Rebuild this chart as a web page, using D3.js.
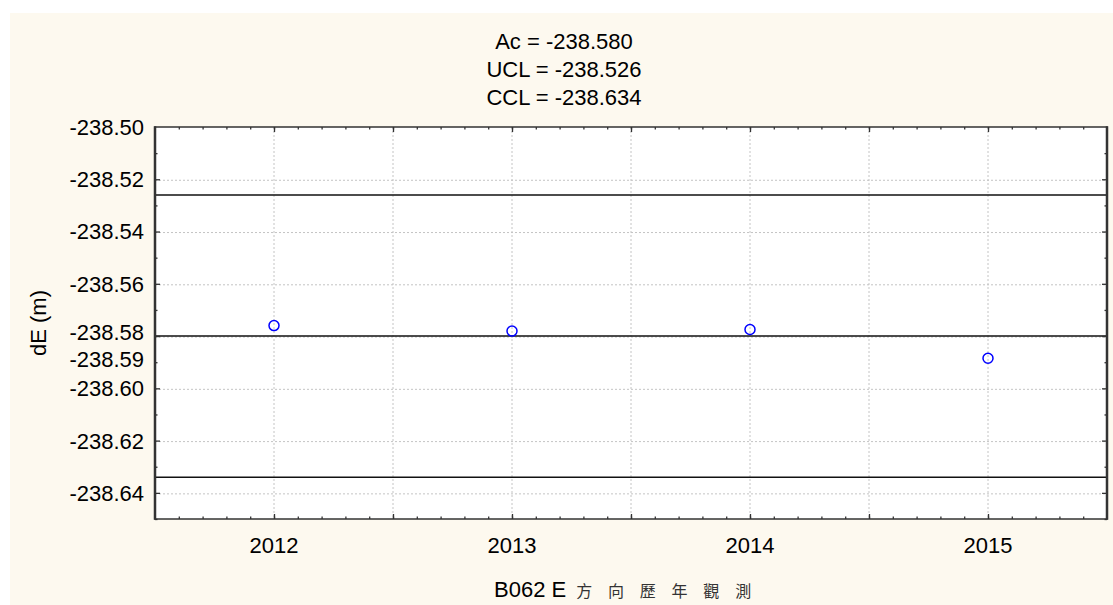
<!DOCTYPE html>
<html>
<head>
<meta charset="utf-8">
<script src="https://cdn.jsdelivr.net/npm/d3@7"></script>
<style>
  body { margin: 0; background: #fff; }
  text { font-family: "Liberation Sans", Arial, sans-serif; fill: #000; }
</style>
</head>
<body>
<svg id="chart"></svg>
<script>
// observations per year
var years = [2012, 2013, 2014, 2015];
var dE = [-238.5760, -238.5781, -238.5775, -238.5885];

// control lines
var controlNames = ["Ac", "UCL", "CCL"];
var controlValues = [-238.580, -238.526, -238.634];

// axis ticks
var yTicks = [-238.50, -238.52, -238.54, -238.56, -238.58, -238.59, -238.60, -238.62, -238.64];
var yTickLabels = ["-238.50", "-238.52", "-238.54", "-238.56", "-238.58", "-238.59", "-238.60", "-238.62", "-238.64"];
var yGrid = [-238.52, -238.54, -238.56, -238.58, -238.60, -238.62, -238.64];
var yMinor = [-238.51, -238.53, -238.55, -238.57, -238.59, -238.61, -238.63, -238.65];
var xGrid = [2012, 2012.5, 2013, 2013.5, 2014, 2014.5, 2015];

var titleLines = ["Ac = -238.580", "UCL = -238.526", "CCL = -238.634"];
var xTitleLatin = "B062 E";
var xTitleCjk = ["方", "向", "歷", "年", "觀", "測"];
var yTitle = "dE (m)";

(function() {
var width = 1113, height = 605;
var pLeft = 155, pRight = 1107, pTop = 127, pBottom = 519;

var svg = d3.select("#chart")
	.attr("width", width)
	.attr("height", height);

svg.append("rect")
	.attr("x", 10).attr("y", 13)
	.attr("width", width - 10).attr("height", height - 13)
	.attr("fill", "#fdf9ef");

svg.append("rect")
	.attr("x", pLeft).attr("y", pTop)
	.attr("width", pRight - pLeft).attr("height", pBottom - pTop)
	.attr("fill", "#fff");

var x = d3.scaleLinear().domain([2011.5, 2015.5]).range([pLeft, pRight]);
var y = d3.scaleLinear().domain([-238.65, -238.50]).range([pBottom, pTop]);

// grid
svg.selectAll(".vgrid")
	.data(xGrid)
	.enter().append("line")
	.attr("x1", function(d) { return x(d); })
	.attr("x2", function(d) { return x(d); })
	.attr("y1", pTop).attr("y2", pBottom)
	.attr("stroke", "#c4c4c4")
	.attr("stroke-dasharray", "2,2");

svg.selectAll(".hgrid")
	.data(yGrid)
	.enter().append("line")
	.attr("x1", pLeft).attr("x2", pRight)
	.attr("y1", function(d) { return y(d) + 1; })
	.attr("y2", function(d) { return y(d) + 1; })
	.attr("stroke", "#c4c4c4")
	.attr("stroke-dasharray", "2,2");

// control lines
svg.selectAll(".ctrl")
	.data(controlValues)
	.enter().append("line")
	.attr("x1", pLeft).attr("x2", pRight)
	.attr("y1", function(d) { return y(d); })
	.attr("y2", function(d) { return y(d); })
	.attr("stroke", "#111")
	.attr("stroke-width", 1.5);

// points
svg.selectAll(".pt")
	.data(years)
	.enter().append("circle")
	.attr("cx", function(d) { return x(d); })
	.attr("cy", function(d, i) { return y(dE[i]); })
	.attr("r", 5)
	.attr("fill", "none")
	.attr("stroke", "#0000ff")
	.attr("stroke-width", 1.5);

// axes (ticks pointing inwards)
var xMinor = d3.range(2011.6, 2015.45, 0.1);

function tickAxis(axisFn, scale, values, size, transform) {
	var g = svg.append("g")
		.attr("transform", transform)
		.call(axisFn(scale).tickValues(values).tickSize(size).tickFormat(""));
	g.select(".domain").remove();
	g.selectAll("line").attr("stroke", "#333").attr("stroke-width", 1.3);
}

tickAxis(d3.axisBottom, x, xMinor, -2.5, "translate(0," + pBottom + ")");
tickAxis(d3.axisBottom, x, xGrid, -5, "translate(0," + pBottom + ")");
tickAxis(d3.axisTop, x, xMinor, -2.5, "translate(0," + pTop + ")");
tickAxis(d3.axisTop, x, xGrid, -5, "translate(0," + pTop + ")");
tickAxis(d3.axisLeft, y, yMinor, -2.5, "translate(" + pLeft + ",0)");
tickAxis(d3.axisLeft, y, yGrid, -5, "translate(" + pLeft + ",0)");
tickAxis(d3.axisRight, y, yMinor, -2.5, "translate(" + pRight + ",0)");
tickAxis(d3.axisRight, y, yGrid, -5, "translate(" + pRight + ",0)");

// frame
svg.append("rect")
	.attr("x", pLeft).attr("y", pTop)
	.attr("width", pRight - pLeft).attr("height", pBottom - pTop)
	.attr("fill", "none")
	.attr("stroke", "#333")
	.attr("stroke-width", 1.5);
svg.append("line")
	.attr("x1", pLeft).attr("x2", pLeft).attr("y1", pTop - 0.75).attr("y2", pBottom + 0.75)
	.attr("stroke", "#333").attr("stroke-width", 2.5);
svg.append("line")
	.attr("x1", pRight).attr("x2", pRight).attr("y1", pTop - 0.75).attr("y2", pBottom + 0.75)
	.attr("stroke", "#333").attr("stroke-width", 2.5);

// y tick labels (the two close ones pushed apart)
svg.selectAll(".ylab")
	.data(yTicks)
	.enter().append("text")
	.attr("x", pLeft - 11)
	.attr("y", function(d, i) {
		var nudge = yTickLabels[i] === "-238.58" ? -4 : (yTickLabels[i] === "-238.59" ? -3.5 : 0);
		return y(d) + nudge;
	})
	.attr("dy", "0.36em")
	.attr("text-anchor", "end")
	.style("font-size", "22px")
	.text(function(d, i) { return yTickLabels[i]; });

// x tick labels
svg.selectAll(".xlab")
	.data(years)
	.enter().append("text")
	.attr("x", function(d) { return x(d); })
	.attr("y", 553)
	.attr("text-anchor", "middle")
	.style("font-size", "22px")
	.text(function(d) { return d; });

// title
svg.selectAll(".title")
	.data(titleLines)
	.enter().append("text")
	.attr("x", 564)
	.attr("y", function(d, i) { return 49 + i * 28; })
	.attr("text-anchor", "middle")
	.style("font-size", "22px")
	.text(function(d) { return d; });

// x title
var xt = svg.append("text")
	.attr("x", 494)
	.attr("y", 597)
	.style("font-size", "22px");
xt.append("tspan").text(xTitleLatin);
xt.append("tspan")
	.attr("dx", 10)
	.style("font-family", "'Noto Sans CJK TC', sans-serif")
	.style("font-size", "16px")
	.style("letter-spacing", "15.8px")
	.style("fill", "#333")
	.text(xTitleCjk.join(""));

// y title
svg.append("text")
	.attr("transform", "translate(46," + ((pTop + pBottom) / 2) + ")rotate(-90)")
	.attr("text-anchor", "middle")
	.style("font-size", "22px")
	.text(yTitle);
})();
</script>
</body>
</html>
